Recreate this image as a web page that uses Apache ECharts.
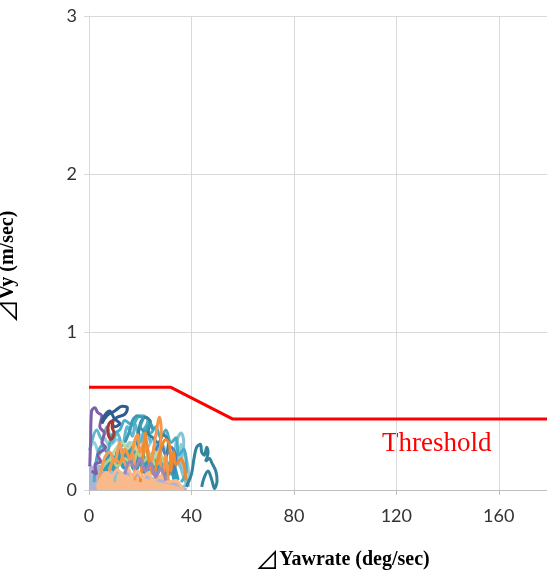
<!DOCTYPE html>
<html>
<head>
<meta charset="utf-8">
<style>
  html, body { margin: 0; padding: 0; background: #fff; }
  #chart { width: 547px; height: 571px; }
</style>
<script src="https://cdn.jsdelivr.net/npm/echarts@6/dist/echarts.min.js"></script>
</head>
<body>
<div id="chart"></div>
<script>
// axis ticks
const xTicks = [0, 40, 80, 120, 160]
const yTicks = [0, 1, 2, 3]

// threshold curve [yawrate, vy]
const thresholdLine = [[0, 0.65], [32, 0.65], [56, 0.45], [180, 0.45]]

const lavenderBase = [[0, 0.16], [2, 0.14], [4, 0.15], [6, 0.13], [9, 0.12], [12, 0.11], [16, 0.1], [20, 0.09], [25, 0.07], [30, 0.05], [35, 0.03], [38, 0]]
const paleBlueA = [[0, 0.25], [2, 0.3], [4, 0.22], [6, 0.33], [8, 0.28], [11, 0.32], [13, 0.24], [16, 0.3], [18, 0.22], [20, 0.35], [22, 0.25], [25, 0.32], [27, 0.2], [29, 0.28], [31, 0.15], [33, 0.25], [35, 0.18], [36, 0.29], [38, 0.2], [39, 0.08], [37, 0.02]]
const paleBlueB = [[10, 0.05], [12, 0.2], [14, 0.15], [16, 0.26], [19, 0.18], [21, 0.28], [24, 0.2], [26, 0.3], [28, 0.16], [31, 0.24], [33, 0.12], [34, 0.3], [36, 0.36], [37, 0.3], [36, 0.15], [38, 0.04]]
const paleBlueC = [[2, 0.12], [4, 0.2], [6, 0.14], [8, 0.24], [10, 0.16], [12, 0.28], [14, 0.18], [16, 0.22], [18, 0.16], [20, 0.26], [23, 0.15], [25, 0.24], [27, 0.12], [29, 0.2], [32, 0.1], [34, 0.18], [37, 0.1], [39, 0.02]]
const lightBlueA = [[2, 0.05], [3, 0.2], [5, 0.28], [7, 0.24], [9, 0.35], [12, 0.38], [14, 0.44], [17, 0.41], [19, 0.46], [21, 0.47], [23, 0.44], [22, 0.38], [24, 0.36], [26, 0.4], [28, 0.33], [30, 0.38], [32, 0.3], [34, 0.33], [35, 0.22], [37, 0.26], [38, 0.12], [36, 0.05]]
const lightBlueB = [[1, 0.3], [3, 0.38], [5, 0.32], [7, 0.4], [9, 0.3], [11, 0.36], [13, 0.28], [15, 0.4], [17, 0.34], [18, 0.42], [20, 0.3], [22, 0.4], [24, 0.3]]
const tealFill = [[6, 0.12], [8, 0.22], [10, 0.14], [12, 0.25], [14, 0.15], [16, 0.26], [18, 0.14], [20, 0.24], [22, 0.12], [24, 0.21], [26, 0.11], [28, 0.18], [30, 0.1], [32, 0.16], [34, 0.06]]
const tealMid = [[18, 0.1], [19, 0.3], [20, 0.42], [22, 0.46], [24, 0.43], [23, 0.36], [25, 0.33], [27, 0.3], [29, 0.35], [31, 0.3], [30, 0.2]]
const tealTop = [[14, 0.3], [16, 0.38], [17, 0.44], [19, 0.47], [21, 0.45], [20, 0.4], [22, 0.37], [24, 0.42], [25, 0.38]]
const tealRight = [[38, 0.02], [40, 0.1], [41, 0.2], [42, 0.27], [43.5, 0.29], [44, 0.24], [45, 0.22], [46, 0.27], [46.5, 0.24], [45.5, 0.18], [47, 0.2], [48, 0.17], [49.5, 0.12], [50, 0.06], [49, 0.01], [48, 0.06], [46.5, 0.12], [45, 0.08], [44, 0.02]]
const greenA = [[8, 0.18], [10, 0.25], [13, 0.3], [15, 0.26], [17, 0.3], [20, 0.22], [22, 0.27], [25, 0.2], [27, 0.24], [30, 0.14]]
const greenB = [[4, 0.1], [6, 0.16], [9, 0.2], [11, 0.15], [14, 0.2], [17, 0.16], [19, 0.24], [21, 0.18], [24, 0.22], [26, 0.16], [29, 0.2], [31, 0.12]]
const steelBlue = [[26, 0.25], [28, 0.3], [30, 0.22], [32, 0.27], [34, 0.2], [33, 0.1]]
const orangeA = [[8, 0.12], [10, 0.2], [12, 0.17], [14, 0.26], [16, 0.2], [18, 0.32], [19, 0.35], [20, 0.24], [22, 0.3], [24, 0.18], [26, 0.34], [27.5, 0.46], [28.2, 0.38], [27.8, 0.2], [29, 0.1], [30, 0.22], [31, 0.05]]
const orangeB = [[20, 0.05], [21, 0.2], [22, 0.36], [23, 0.22], [25, 0.1], [28, 0.26], [30, 0.32], [31.5, 0.28], [32, 0.12], [33, 0.24], [34, 0.16], [36, 0.2], [38, 0.06]]
const orangeC = [[4, 0.06], [6, 0.2], [8, 0.24], [10, 0.18], [12, 0.3], [13, 0.22], [15, 0.14], [17, 0.24], [18, 0.06]]
const peachBase = [[3, 0.02], [5, 0.08], [7, 0.11], [9, 0.09], [11, 0.13], [13, 0.1], [15, 0.14], [17, 0.09], [19, 0.12], [21, 0.08], [23, 0.11], [25, 0.06], [28, 0.09], [31, 0.05], [34, 0.06], [36, 0.02], [37, 0]]
const purpleA = [[0.3, 0.15], [0.6, 0.3], [1, 0.5], [2.3, 0.52], [3.4, 0.49], [5, 0.47], [4.2, 0.4], [6, 0.36], [5, 0.3], [6.5, 0.27], [3.4, 0.22], [4.5, 0.18], [2.3, 0.16], [3, 0.1], [1, 0.12]]
const purpleB = [[14, 0.1], [16, 0.18], [18, 0.14], [20, 0.2], [22, 0.12], [24, 0.17], [26, 0.08], [28, 0.14], [30, 0.06]]
const darkBlueLoop = [[5, 0.42], [7, 0.47], [10, 0.5], [13, 0.53], [15, 0.52], [14, 0.48], [11, 0.46], [9, 0.43], [10, 0.4], [12, 0.42], [10, 0.45], [8, 0.5], [6, 0.47], [5, 0.43]]
const darkRedLoop = [[8, 0.33], [7.3, 0.37], [7.8, 0.42], [9.5, 0.44], [9, 0.4], [9.8, 0.36], [8.6, 0.32], [8, 0.33]]

const traces = [
  { data: lavenderBase, color: '#aab4d8', area: true },
  { data: paleBlueA, color: '#93cddd' },
  { data: paleBlueB, color: '#86c3d6' },
  { data: paleBlueC, color: '#7fc0d4' },
  { data: lightBlueB, color: '#5fb6cd' },
  { data: lightBlueA, color: '#4bacc6' },
  { data: tealFill, color: '#2e9fbb', width: 7 },
  { data: tealMid, color: '#31849b' },
  { data: tealTop, color: '#3b9bb5' },
  { data: tealRight, color: '#31849b' },
  { data: greenA, color: '#c3d69b' },
  { data: greenB, color: '#b5cf8a' },
  { data: steelBlue, color: '#4f81bd' },
  { data: orangeC, color: '#f59d56' },
  { data: orangeA, color: '#f79646' },
  { data: orangeB, color: '#f08a2c' },
  { data: peachBase, color: '#fab98a', area: true },
  { data: purpleB, color: '#9b87bd' },
  { data: purpleA, color: '#7f5fa8' },
  { data: darkBlueLoop, color: '#2f5c8f' },
  { data: darkRedLoop, color: '#a33a36' }
]

const labelFont = 'Lato, "Open Sans", sans-serif'
const titleFont = '"Liberation Serif", "Noto Sans CJK JP", serif'
const triStyle = { fontFamily: '"Noto Sans CJK JP", sans-serif', fontSize: 24, fontWeight: 'normal', color: '#000' }

const chart = echarts.init(document.getElementById('chart'))

chart.setOption({
  animation: false,
  grid: { left: 89, right: -3, top: 16, bottom: 81, containLabel: false, outerBoundsMode: 'none' },
  xAxis: {
    type: 'value',
    min: xTicks[0],
    max: 180,
    interval: 40,
    name: '{tri|⊿}Yawrate (deg/sec)',
    nameLocation: 'middle',
    nameGap: 58,
    nameTextStyle: {
      fontFamily: titleFont,
      fontWeight: 'bold',
      fontSize: 20,
      color: '#000',
      padding: [0, 0, 0, 46],
      rich: { tri: triStyle }
    },
    axisLine: { lineStyle: { color: '#bfbfbf' } },
    axisTick: { show: true, length: 5, lineStyle: { color: '#bfbfbf' } },
    axisLabel: {
      margin: 17,
      fontFamily: labelFont,
      fontSize: 18,
      color: '#333',
      formatter: (v) => (xTicks.includes(v) ? String(v) : '')
    },
    splitLine: { lineStyle: { color: '#d9d9d9' } }
  },
  yAxis: {
    type: 'value',
    min: yTicks[0],
    max: yTicks[yTicks.length - 1],
    interval: 1,
    name: '{tri|⊿}Vy (m/sec)',
    nameLocation: 'middle',
    nameGap: 69,
    nameRotate: 90,
    nameTextStyle: {
      fontFamily: titleFont,
      fontWeight: 'bold',
      fontSize: 20,
      color: '#000',
      padding: [0, 28, 0, 0],
      rich: { tri: triStyle }
    },
    axisLine: { show: true, lineStyle: { color: '#d9d9d9' } },
    axisTick: { show: true, length: 5, lineStyle: { color: '#d9d9d9' } },
    axisLabel: {
      margin: 12,
      fontFamily: labelFont,
      fontSize: 18,
      color: '#333'
    },
    splitLine: { lineStyle: { color: '#d9d9d9' } }
  },
  series: [
    ...traces.map((t) => ({
      type: 'line',
      data: t.data,
      showSymbol: false,
      smooth: 0.35,
      silent: true,
      lineStyle: { color: t.color, width: t.width || 3 },
      areaStyle: t.area ? { color: t.color, opacity: 1 } : undefined,
      itemStyle: { color: t.color }
    })),
    {
      type: 'line',
      name: 'Threshold',
      data: thresholdLine,
      showSymbol: false,
      lineStyle: { color: '#ff0000', width: 3 },
      itemStyle: { color: '#ff0000' }
    }
  ],
  graphic: [{
    type: 'text',
    left: 382,
    top: 430,
    style: {
      text: 'Threshold',
      fill: '#ff0000',
      fontFamily: titleFont,
      fontSize: 27
    }
  }]
})
</script>
</body>
</html>
